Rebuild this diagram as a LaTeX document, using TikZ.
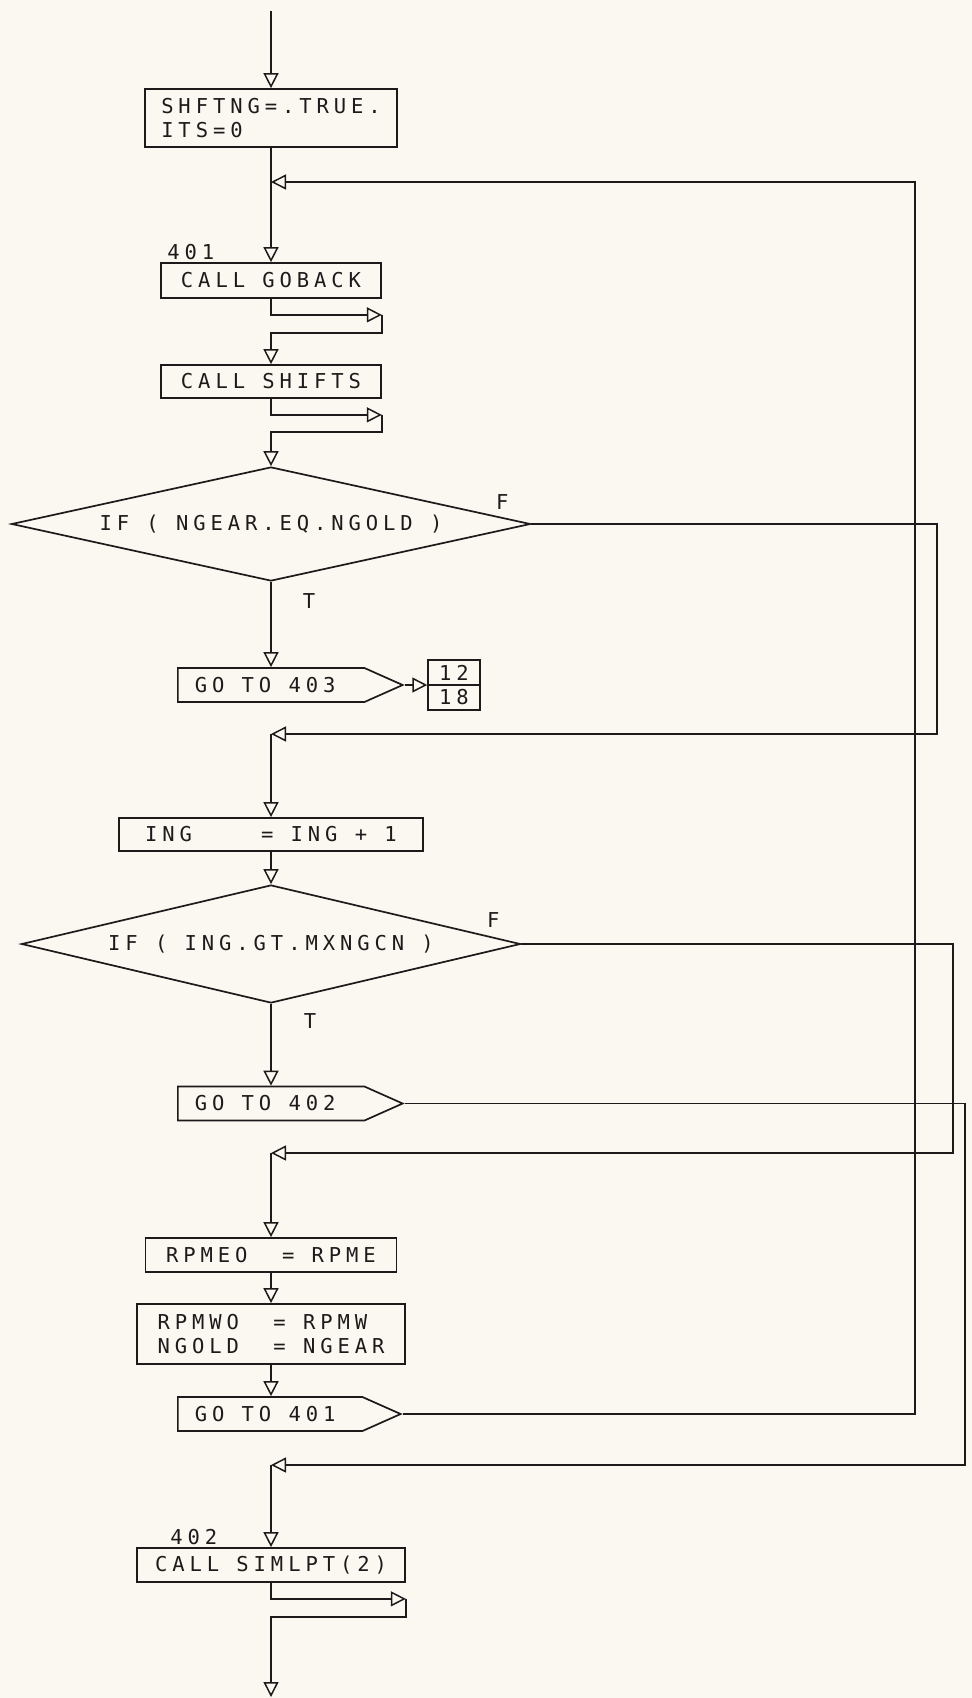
\documentclass[tikz,border=0pt]{standalone}
\usepackage{fontspec}
\newfontfamily\plotter[LetterSpace=24]{DejaVu Sans Mono}
\usetikzlibrary{arrows.meta,shapes.geometric,shapes.symbols,shapes.multipart,positioning,calc}
\definecolor{paper}{RGB}{251,247,241}
\definecolor{ink}{RGB}{28,26,26}
\newcommand{\pf}{\plotter\fontsize{20.5}{24}\selectfont}

\begin{document}
\begin{tikzpicture}[x=1pt, y=-1pt,
    blk/.style={draw=ink, line width=1.7pt, inner sep=0pt, align=left, font=\pf, text=ink},
    dec/.style={draw=ink, line width=1.7pt, diamond, aspect=4.5, inner sep=0pt, font=\pf, text=ink},
    jmp/.style={draw=ink, line width=1.7pt, signal, signal to=east, signal pointer angle=48, minimum height=34, inner xsep=17pt, inner ysep=0pt, anchor=west, font=\pf, text=ink},
    pgc/.style={draw=ink, line width=1.5pt, rectangle split, rectangle split parts=2, minimum width=52, inner ysep=4pt, font=\pf, text=ink},
    arr/.style={-{Triangle[open, length=15pt, width=15pt]}, draw=ink, line width=1.5pt},
    lbl/.style={font=\pf, text=ink, inner sep=1pt}
]
\fill[paper] (0,0) rectangle (972,1698);

\node[blk, minimum width=252, minimum height=58] (ini) at (271,118) {SHFTNG=.TRUE.\\ITS=0};
\node[blk, minimum width=220, minimum height=35] (gob) at (271,280.5) {CALL GOBACK};
\node[lbl, anchor=south west] (l401) at ($(gob.north west)+(6,-1)$) {401};
\node[blk, minimum width=220, minimum height=33] (shf) at (271,381.5) {CALL SHIFTS};
\node[dec, minimum width=519, minimum height=114] (if1) at (271,524) {IF ( NGEAR.EQ.NGOLD )};
\node[lbl] (f1) at ($(if1.east)+(-29,-22)$) {F};
\node[lbl] (t1) at ($(if1.south)+(38,19)$) {T};
\node[jmp] (go3) at (177,685) {GO TO 403\kern12pt};
\node[pgc] (pg) at (454,685) {12\nodepart{two}18};
\node[blk, minimum width=304, minimum height=33] (ing) at (271,834.5) {ING\ \ \ \ = ING + 1};
\node[dec, minimum width=499, minimum height=118] (if2) at (271,944) {IF ( ING.GT.MXNGCN )};
\node[lbl] (f2) at ($(if2.east)+(-28,-24)$) {F};
\node[lbl] (t2) at ($(if2.south)+(39,17)$) {T};
\node[jmp] (go2) at (177,1103.5) {GO TO 402\kern12pt};
\node[blk, minimum width=251, minimum height=34] (rpe) at (271,1255) {RPMEO\ \ = RPME};
\node[blk, minimum width=268, minimum height=60] (rpw) at (271,1334) {RPMWO\ \ = RPMW\\NGOLD\ \ = NGEAR};
\node[jmp] (go1) at (177,1414) {GO TO 401\kern10pt};
\node[blk, minimum width=268, minimum height=34] (sim) at (271,1565) {CALL SIMLPT(2)};
\node[lbl, anchor=south west] (l402) at ($(sim.north west)+(33,-1)$) {402};

\coordinate (start) at (271,11);
\coordinate (back401) at (271,182);
\coordinate (join1) at (271,734);
\coordinate (join2) at (271,1153);
\coordinate (join3) at (271,1465);
\coordinate (end) at (271,1697);
\coordinate (rail1) at (915,0);
\coordinate (rail2) at (937,0);
\coordinate (rail3) at (953,0);
\coordinate (rail4) at (965,0);
\coordinate (gobr) at ($(gob.south east)+(0,16)$);
\coordinate (shfr) at ($(shf.south east)+(0,16)$);
\coordinate (simr) at ($(sim.south east)+(0,16)$);

\draw[arr] (start) -- (ini);
\draw[arr] (ini) -- (gob);
\draw[arr] (gob.south) |- (gobr);
\draw[arr] (gobr) -- ++(0,18) -| (shf.north);
\draw[arr] (shf.south) |- (shfr);
\draw[arr] (shfr) -- ++(0,17) -| (if1.north);
\draw[arr] (if1.south) -- (if1.south |- go3.north);
\draw[arr] (go3.east) -- (pg.west);
\draw[arr] (if1.east) -- (if1.east -| rail2) |- (join1);
\draw[arr] (join1) -- (ing);
\draw[arr] (ing) -- (if2);
\draw[arr] (if2.south) -- (if2.south |- go2.north);
\draw[arr] (if2.east) -- (if2.east -| rail3) |- (join2);
\draw[arr] (go2.east) -- (go2.east -| rail4) |- (join3);
\draw[arr] (join2) -- (rpe);
\draw[arr] (rpe) -- (rpw);
\draw[arr] (rpw.south) -- (rpw.south |- go1.north);
\draw[arr] (go1.east) -- (go1.east -| rail1) |- (back401);
\draw[arr] (join3) -- (sim);
\draw[arr] (sim.south) |- (simr);
\draw[arr] (simr) -- ++(0,18) -| (end);
\end{tikzpicture}
\end{document}
